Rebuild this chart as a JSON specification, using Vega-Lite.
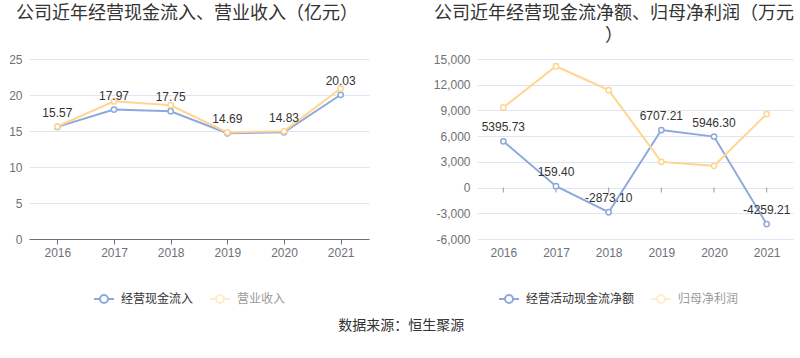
{
  "$schema": "https://vega.github.io/schema/vega-lite/v6.json",
  "background": "white",
  "padding": {"left": 8, "top": 5, "right": 7, "bottom": 5},
  "spacing": 108,
  "bounds": "flush",
  "resolve": {"scale": {"color": "independent"}, "legend": {"color": "independent"}},
  "title": {"text": "数据来源：恒生聚源", "orient": "bottom", "anchor": "middle", "fontSize": 14, "fontWeight": "normal", "color": "#333333", "font": "Noto Sans CJK SC", "offset": 12},
  "config": {
    "view": {"stroke": null},
    "axis": {"labelFont": "Liberation Sans", "labelFontSize": 12, "labelColor": "#6E7079", "gridColor": "#E0E6F1", "title": null},
    "legend": {"labelFont": "Noto Sans CJK SC", "labelFontSize": 12, "labelColor": "#333333"},
    "title": {"font": "Noto Sans CJK SC", "fontSize": 18, "fontWeight": "normal", "color": "#333333"}
  },
  "hconcat": [
    {
      "width": 340,
      "height": 180,
      "title": {"text": "公司近年经营现金流入、营业收入（亿元）", "anchor": "middle", "dx": -12, "offset": 30},
      "data": {"values": [
        {"year": "2016", "series": "经营现金流入", "value": 15.57, "label": "15.57"},
        {"year": "2017", "series": "经营现金流入", "value": 17.97, "label": "17.97"},
        {"year": "2018", "series": "经营现金流入", "value": 17.75, "label": "17.75"},
        {"year": "2019", "series": "经营现金流入", "value": 14.69, "label": "14.69"},
        {"year": "2020", "series": "经营现金流入", "value": 14.83, "label": "14.83"},
        {"year": "2021", "series": "经营现金流入", "value": 20.03, "label": "20.03"},
        {"year": "2016", "series": "营业收入", "value": 15.62},
        {"year": "2017", "series": "营业收入", "value": 19.12},
        {"year": "2018", "series": "营业收入", "value": 18.58},
        {"year": "2019", "series": "营业收入", "value": 14.8},
        {"year": "2020", "series": "营业收入", "value": 14.98},
        {"year": "2021", "series": "营业收入", "value": 20.91}
      ]},
      "encoding": {
        "x": {"field": "year", "type": "ordinal", "scale": {"type": "point", "padding": 0.5},
          "axis": {"labelAngle": 0, "domainColor": "#6E7079", "tickColor": "#6E7079", "tickSize": 5, "labelPadding": 3, "grid": false}},
        "y": {"field": "value", "type": "quantitative", "scale": {"domain": [0, 25]},
          "axis": {"values": [0, 5, 10, 15, 20, 25], "format": "d", "labelOverlap": false, "domain": false, "ticks": false, "labelPadding": 7}}
      },
      "layer": [
        {
          "mark": {"type": "line", "strokeWidth": 2, "point": {"filled": false, "fill": "white", "size": 28, "strokeWidth": 1.5}},
          "encoding": {
            "color": {"field": "series", "type": "nominal", "sort": ["经营现金流入", "营业收入"],
              "scale": {"domain": ["经营现金流入", "营业收入"], "range": ["#8DA9DB", "#FFD591"]},
              "legend": {"orient": "none", "legendX": 64, "legendY": 229, "direction": "horizontal", "title": null,
                "symbolType": "M-1,0H-0.4M0.4,0H1M-0.4,0A0.4,0.4,0,1,1,0.4,0A0.4,0.4,0,1,1,-0.4,0",
                "symbolSize": 400, "symbolStrokeWidth": 2, "labelOffset": 6, "columnPadding": 12,
                "encode": {
                  "labels": {"update": {"fill": {"signal": "datum.label === '营业收入' ? '#999999' : '#333333'"}}},
                  "symbols": {"update": {"opacity": {"signal": "datum.value === '营业收入' ? 0.45 : 1"}, "fill": {"value": "white"}}}
                }}}
          }
        },
        {
          "transform": [{"filter": "datum.series === '经营现金流入'"}],
          "mark": {"type": "text", "baseline": "bottom", "dy": -7, "fontSize": 12, "font": "Liberation Sans", "color": "#333333"},
          "encoding": {
            "text": {"field": "label", "type": "nominal"}
          }
        }
      ]
    },
    {
      "width": 316,
      "height": 180,
      "title": {"text": ["公司近年经营现金流净额、归母净利润（万元", "）"], "anchor": "middle", "dx": -21, "offset": 8, "lineHeight": 22},
      "data": {"values": [
        {"year": "2016", "series": "经营活动现金流净额", "value": 5395.73, "label": "5395.73"},
        {"year": "2017", "series": "经营活动现金流净额", "value": 159.40, "label": "159.40"},
        {"year": "2018", "series": "经营活动现金流净额", "value": -2873.10, "label": "-2873.10"},
        {"year": "2019", "series": "经营活动现金流净额", "value": 6707.21, "label": "6707.21"},
        {"year": "2020", "series": "经营活动现金流净额", "value": 5946.30, "label": "5946.30"},
        {"year": "2021", "series": "经营活动现金流净额", "value": -4259.21, "label": "-4259.21"},
        {"year": "2016", "series": "归母净利润", "value": 9343},
        {"year": "2017", "series": "归母净利润", "value": 14154},
        {"year": "2018", "series": "归母净利润", "value": 11365},
        {"year": "2019", "series": "归母净利润", "value": 2998},
        {"year": "2020", "series": "归母净利润", "value": 2533},
        {"year": "2021", "series": "归母净利润", "value": 8576}
      ]},
      "encoding": {
        "x": {"field": "year", "type": "ordinal", "scale": {"type": "point", "padding": 0.5},
          "axis": {"labelAngle": 0, "domain": false, "ticks": false, "labelPadding": 8, "grid": false}},
        "y": {"field": "value", "type": "quantitative", "scale": {"domain": [-6000, 15000]},
          "axis": {"values": [-6000, -3000, 0, 3000, 6000, 9000, 12000, 15000], "labelExpr": "replace(format(datum.value, ','), '\u2212', '-')", "labelOverlap": false, "domain": false, "ticks": false, "labelPadding": 7}}
      },
      "layer": [
        {
          "transform": [{"filter": "datum.series === '经营活动现金流净额'"}, {"filter": "datum.year === '2016'"}],
          "mark": {"type": "rule", "color": "#6E7079", "strokeWidth": 1},
          "encoding": {"x": {"value": 0}, "x2": {"expr": "width"}, "y": {"datum": 0, "type": "quantitative"}}
        },
        {
          "transform": [{"filter": "datum.series === '经营活动现金流净额'"}],
          "mark": {"type": "tick", "orient": "vertical", "size": 5, "thickness": 1, "yOffset": 2.5, "color": "#6E7079"},
          "encoding": {"y": {"datum": 0, "type": "quantitative"}}
        },
        {
          "mark": {"type": "line", "strokeWidth": 2, "point": {"filled": false, "fill": "white", "size": 28, "strokeWidth": 1.5}},
          "encoding": {
            "color": {"field": "series", "type": "nominal",
              "scale": {"domain": ["经营活动现金流净额", "归母净利润"], "range": ["#8DA9DB", "#FFD591"]},
              "legend": {"orient": "none", "legendX": 21, "legendY": 229, "direction": "horizontal", "title": null,
                "symbolType": "M-1,0H-0.4M0.4,0H1M-0.4,0A0.4,0.4,0,1,1,0.4,0A0.4,0.4,0,1,1,-0.4,0",
                "symbolSize": 400, "symbolStrokeWidth": 2, "labelOffset": 6, "columnPadding": 12,
                "encode": {
                  "labels": {"update": {"fill": {"signal": "datum.label === '归母净利润' ? '#999999' : '#333333'"}}},
                  "symbols": {"update": {"opacity": {"signal": "datum.value === '归母净利润' ? 0.45 : 1"}, "fill": {"value": "white"}}}
                }}}
          }
        },
        {
          "transform": [{"filter": "datum.series === '经营活动现金流净额'"}],
          "mark": {"type": "text", "baseline": "bottom", "dy": -7, "fontSize": 12, "font": "Liberation Sans", "color": "#333333"},
          "encoding": {
            "text": {"field": "label", "type": "nominal"}
          }
        }
      ]
    }
  ]
}
